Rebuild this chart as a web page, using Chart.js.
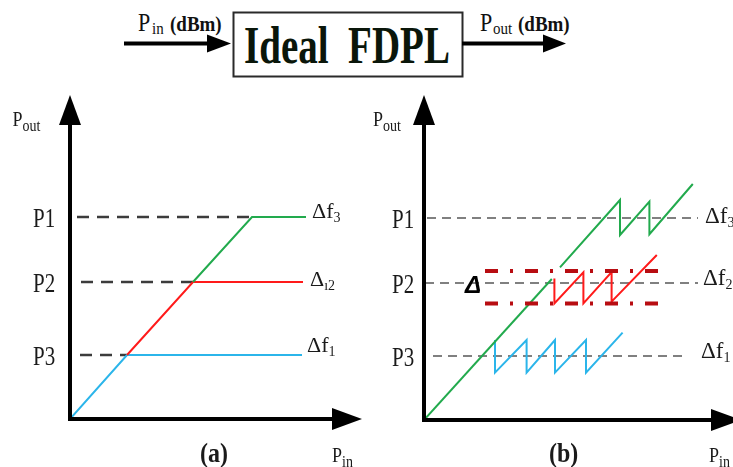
<!DOCTYPE html>
<html>
<head>
<meta charset="utf-8">
<script src="https://cdn.jsdelivr.net/npm/chart.js@4.4.1/dist/chart.umd.min.js"></script>
<style>
  body { margin: 0; background: #fff; width: 733px; height: 467px; overflow: hidden; position: relative; }
  svg { position: absolute; left: 0; top: 0; }
  canvas { position: absolute; top: 80px; }
  #chartA { left: 0; }
  #chartB { left: 366px; }
</style>
</head>
<body>
<svg width="733" height="80">
  <line x1="124" y1="43.5" x2="209" y2="43.5" stroke="#000" stroke-width="4"/>
  <polygon points="231,43.5 207,34.5 207,52.5" fill="#000"/>
  <rect x="233.5" y="12.5" width="229" height="64" fill="#fff" stroke="#2a2a2a" stroke-width="2"/>
  <text transform="translate(347,63) scale(1,1.33)" text-anchor="middle" font-family="Liberation Serif" font-weight="bold" font-size="39" fill="#0a160a" xml:space="preserve">Ideal  FDPL</text>
  <line x1="462" y1="43.5" x2="545" y2="43.5" stroke="#000" stroke-width="4"/>
  <polygon points="566,43.5 543,34.5 543,52.5" fill="#000"/>
  <g transform="translate(138,31) scale(1,1.15)" font-family="Liberation Serif" fill="#111">
    <text><tspan x="0" font-size="22">P</tspan><tspan x="14" dy="3" font-size="15">in</tspan><tspan x="32" dy="-3" font-size="19" font-weight="bold">(dBm)</tspan></text>
  </g>
  <g transform="translate(480,31) scale(1,1.15)" font-family="Liberation Serif" fill="#111">
    <text><tspan x="0" font-size="22">P</tspan><tspan x="13" dy="3" font-size="15">out</tspan><tspan x="38" dy="-3" font-size="19" font-weight="bold">(dBm)</tspan></text>
  </g>
</svg>
<canvas id="chartA" width="366" height="387"></canvas>
<canvas id="chartB" width="367" height="387"></canvas>
<script>
// output power levels P1, P2, P3
const levels = [10.1, 6.85, 3.2];
const levelNames = ['P1', 'P2', 'P3'];

// (a) ideal limiter: each curve rises linearly then saturates
const aGreen = [[6.15, 6.85], [9.1, 10.1], [11.8, 10.1]];
const aRed = [[2.85, 3.2], [6.15, 6.85], [11.65, 6.85]];
const aBlue = [[0, 0], [2.85, 3.2], [11.6, 3.2]];
const aDashStart = [0.35, 0.55, 0.5];
const aDashEnd = [9.1, 6.15, 2.85];

// (b) sawtooth response around each level
const bGreenLow = [[0, 0], [6.39, 7.05]];
const bGreenHigh = [[6.8, 7.63], [9.8, 11.0], [9.8, 9.25], [11.27, 10.92], [11.27, 9.29], [13.44, 11.8]];
const bRed = [[6.52, 7.08], [6.52, 5.83], [7.97, 7.39], [7.97, 5.83], [9.38, 7.39], [9.38, 5.92], [11.64, 8.25]];
const bBlue = [[3.55, 4.0], [3.55, 2.37], [5.13, 4.0], [5.13, 2.37], [6.55, 4.0], [6.55, 2.37], [8.1, 4.0], [8.1, 2.37], [9.93, 4.37]];
const bBand = [7.45, 5.83];
const bBandX = [3.05, 11.8];
const bDashStart = [0.15, 0.05, 0.45];
const bDashEnd = [13.7, 13.7, 12.95];

const GREEN = '#22aa4d', RED = '#ff1a1a', BLUE = '#2bb5ea', BAND = '#b80d12';
const SERIF = '"Liberation Serif", "Times New Roman", serif';

function line(points, color, width, dash) {
  return {
    data: points.map(p => ({ x: p[0], y: p[1] })),
    showLine: true,
    borderColor: color,
    borderWidth: width,
    borderDash: dash || [],
    pointRadius: 0,
    fill: false,
    tension: 0
  };
}

function txt(ctx, s, x, y, font, sy) {
  ctx.save();
  ctx.font = font;
  ctx.translate(x, y);
  ctx.scale(1, sy || 1);
  ctx.fillText(s, 0, 0);
  const w = ctx.measureText(s).width;
  ctx.restore();
  return w;
}

// axes with arrowheads plus the hand-placed labels
function decor(p) {
  return {
    id: 'decor',
    afterDraw(chart) {
      const ctx = chart.ctx, xs = chart.scales.x, ys = chart.scales.y;
      const x0 = xs.getPixelForValue(0), y0 = ys.getPixelForValue(0);
      const xTip = xs.getPixelForValue(p.xArrow), yTip = ys.getPixelForValue(ys.max);
      ctx.save();
      ctx.fillStyle = '#000';
      ctx.strokeStyle = '#000';
      ctx.lineWidth = 4;
      ctx.beginPath();
      ctx.moveTo(x0, y0 + 2); ctx.lineTo(x0, yTip + 26);
      ctx.moveTo(x0 - 2, y0); ctx.lineTo(xTip - 26, y0);
      ctx.stroke();
      ctx.beginPath();
      ctx.moveTo(x0, yTip); ctx.lineTo(x0 - 11, yTip + 30); ctx.lineTo(x0 + 11, yTip + 30);
      ctx.closePath(); ctx.fill();
      ctx.beginPath();
      ctx.moveTo(xTip, y0); ctx.lineTo(xTip - 30, y0 - 11); ctx.lineTo(xTip - 30, y0 + 11);
      ctx.closePath(); ctx.fill();

      ctx.fillStyle = '#1a1a1a';
      // axis titles
      let w = txt(ctx, 'P', p.pout[0], p.pout[1], '18px ' + SERIF, 1.2);
      txt(ctx, 'out', p.pout[0] + w, p.pout[1] + 5, '14px ' + SERIF, 1.2);
      w = txt(ctx, 'P', p.pin[0], p.pin[1], '18px ' + SERIF, 1.2);
      txt(ctx, 'in', p.pin[0] + w, p.pin[1] + 5, '14px ' + SERIF, 1.2);
      txt(ctx, p.tag, p.tagX, p.pin[1], 'bold 24px ' + SERIF, 1.15);
      // level names
      levels.forEach((v, i) => {
        txt(ctx, levelNames[i], p.levelX, ys.getPixelForValue(v) + 9.5, '21px ' + SERIF, 1.33);
      });
      // frequency offset labels
      p.deltas.forEach((d, i) => {
        const yb = ys.getPixelForValue(levels[i]) + d.dy;
        const w1 = txt(ctx, d.main, d.x, yb, p.deltaSize + 'px ' + SERIF, 1);
        txt(ctx, d.sub, d.x + w1, yb + 4, '14px ' + SERIF, 1);
      });
      if (p.extra) p.extra(ctx, xs, ys);
      ctx.restore();
    }
  };
}

function makeChart(id, datasets, pad, xMax, yMax, spec) {
  return new Chart(document.getElementById(id), {
    type: 'scatter',
    data: { datasets: datasets },
    options: {
      responsive: false,
      animation: false,
      devicePixelRatio: 1,
      events: [],
      layout: { padding: pad },
      plugins: { legend: { display: false }, tooltip: { enabled: false } },
      elements: { line: { borderJoinStyle: 'miter' } },
      scales: {
        x: { type: 'linear', min: 0, max: xMax, display: false },
        y: { type: 'linear', min: 0, max: yMax, display: false }
      }
    },
    plugins: [decor(spec)]
  });
}

// panel (a)
const dsA = [
  line(aGreen, GREEN, 2),
  line(aRed, RED, 2),
  line(aBlue, BLUE, 2)
];
levels.forEach((v, i) => {
  dsA.push(line([[aDashStart[i], v], [aDashEnd[i], v]], '#3c3c3c', 2.5, [12, 8]));
});
makeChart('chartA', dsA, { left: 70, top: 15, right: 4, bottom: 48 }, 14.6, 16.2, {
  xArrow: 14.6,
  pout: [12.5, 46],
  pin: [332, 382],
  tag: '(a)', tagX: 200,
  levelX: 33,
  deltaSize: 22,
  deltas: [
    { x: 312, dy: 1, main: 'Δf', sub: '3' },
    { x: 310, dy: 4, main: 'Δ', sub: 'ı2' },
    { x: 307, dy: -3, main: 'Δf', sub: '1' }
  ]
});

// panel (b)
const dsB = [];
bBand.forEach(v => dsB.push(line([[bBandX[0], v], [bBandX[1], v]], BAND, 4, [13, 12, 3, 12])));
dsB.push(line(bGreenLow, GREEN, 2));
dsB.push(line(bGreenHigh, GREEN, 2));
dsB.push(line(bRed, RED, 2));
dsB.push(line(bBlue, BLUE, 2));
levels.forEach((v, i) => {
  dsB.push(line([[bDashStart[i], v], [bDashEnd[i], v]], '#808080', 2, [9, 6]));
});
makeChart('chartB', dsB, { left: 58, top: 15, right: 0, bottom: 47 }, 15.45, 16.25, {
  xArrow: 15.85,
  pout: [7, 46],
  pin: [343, 382],
  tag: '(b)', tagX: 183,
  levelX: 26,
  deltaSize: 23,
  deltas: [
    { x: 339, dy: 5, main: 'Δf', sub: '3' },
    { x: 337, dy: 2, main: 'Δf', sub: '2' },
    { x: 335, dy: 2, main: 'Δf', sub: '1' }
  ],
  extra(ctx, xs, ys) {
    ctx.fillStyle = '#000';
    ctx.font = 'bold italic 24px "Liberation Sans", Arial, sans-serif';
    ctx.fillText('Δ', 99, ys.getPixelForValue(levels[1]) + 10);
  }
});
</script>
</body>
</html>
